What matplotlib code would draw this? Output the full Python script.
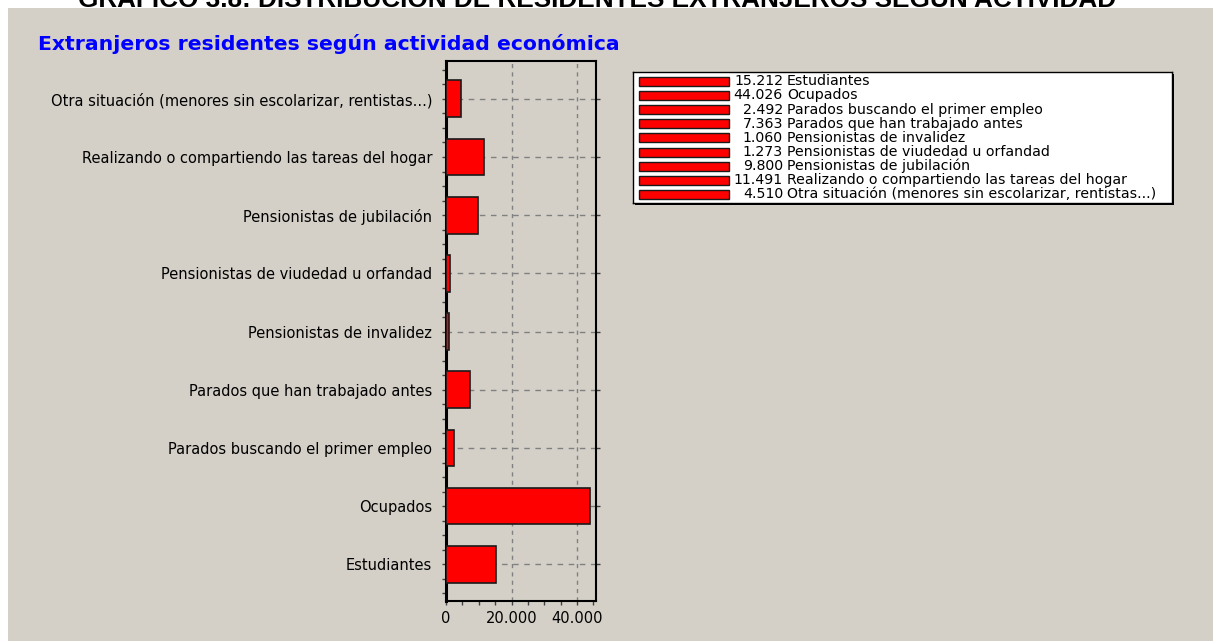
import matplotlib
matplotlib.use("Agg")
import matplotlib.pyplot as plt
from matplotlib.patches import Rectangle
from matplotlib.ticker import FuncFormatter, MultipleLocator, FixedLocator

plt.rcParams['font.family'] = ['DejaVu Sans']

# data (bottom to top, as in the chart)
categorias = ["Estudiantes",
              "Ocupados",
              "Parados buscando el primer empleo",
              "Parados que han trabajado antes",
              "Pensionistas de invalidez",
              "Pensionistas de viudedad u orfandad",
              "Pensionistas de jubilación",
              "Realizando o compartiendo las tareas del hogar",
              "Otra situación (menores sin escolarizar, rentistas...)"]
valores = [15212, 44026, 2492, 7363, 1060, 1273, 9800, 11491, 4510]
xticks = [0, 20000, 40000]

W, H = 1213, 641
GRIS = "#d4d0c8"
FS = 10.5
FS_LEG = 10.2

def miles(v, pos=None):
    return f"{int(v):,}".replace(",", ".")

fig = plt.figure(figsize=(W / 100, H / 100), dpi=100)
fig.patch.set_facecolor("white")

# page title, only its lower part shows above the grey panel
fig.text(0.492, 1 - 7 / H, "GRÁFICO 3.8: DISTRIBUCIÓN DE RESIDENTES EXTRANJEROS SEGÚN ACTIVIDAD",
         ha="center", va="baseline", fontsize=18.8, fontweight="bold", color="black",
         family="Liberation Sans", zorder=-3)
fig.patches.append(Rectangle((8 / W, 0), 1 - 8 / W, 1 - 8 / H, transform=fig.transFigure,
                             facecolor=GRIS, edgecolor="none", zorder=-2))

fig.text(38 / W, 1 - 44 / H, "Extranjeros residentes según actividad económica",
         ha="left", va="center", fontsize=14.7, fontweight="bold", color="#0000ff")

# bar chart
ax = fig.add_axes([446 / W, 1 - 601 / H, 150 / W, 540 / H])
ax.set_facecolor(GRIS)
pos = list(range(len(categorias)))
ax.barh(pos, valores, height=0.63, color="#ff0000", edgecolor="#1a1a1a", linewidth=1.2, zorder=3)
ax.set_xlim(0, 45800)
ax.set_ylim(-0.63, 8.65)
ax.set_yticks(pos)
ax.set_yticklabels(categorias, fontsize=FS)
ax.yaxis.set_minor_locator(FixedLocator([p / 4 - 0.5 for p in range(37) if p % 4 != 2]))
ax.set_xticks(xticks)
ax.xaxis.set_major_formatter(FuncFormatter(miles))
ax.xaxis.set_minor_locator(MultipleLocator(5000))
ax.tick_params(axis="x", labelsize=FS, length=3, width=1, pad=4, color="#404040")
ax.tick_params(axis="x", which="minor", length=3, width=1, color="#404040")
ax.tick_params(axis="y", which="both", length=3, width=1, pad=7, color="#404040", right=True)
ax.tick_params(axis="y", which="minor", right=False)
ax.grid(True, axis="x", linestyle=(0, (3, 3)), color="#808080", linewidth=1, zorder=1)
ax.grid(True, axis="y", linestyle=(0, (4, 4)), color="#808080", linewidth=1, zorder=1)
ax.set_axisbelow(True)
for side, sp in ax.spines.items():
    sp.set_linewidth(1.5)
    sp.set_color("black")
ax.spines["left"].set_linewidth(2.2)

# legend box with drop shadow
lx0, lx1, ly0, ly1 = 633, 1172, 72, 203
fig.patches.append(Rectangle(((lx0 + 2) / W, 1 - (ly1 + 2) / H), (lx1 - lx0) / W, (ly1 - ly0) / H,
                             transform=fig.transFigure, facecolor="black", edgecolor="none", zorder=-1))
lg = fig.add_axes([lx0 / W, 1 - ly1 / H, (lx1 - lx0) / W, (ly1 - ly0) / H], zorder=1)
lg.set_facecolor("white")
lg.set_xlim(0, lx1 - lx0)
lg.set_ylim(ly1 - ly0, 0)
lg.set_xticks([])
lg.set_yticks([])
for sp in lg.spines.values():
    sp.set_linewidth(1)
    sp.set_color("black")
for i, (cat, val) in enumerate(zip(categorias, valores)):
    yc = 9.2 + 14.16 * i
    lg.add_patch(Rectangle((5.5, yc - 4.5), 90.5, 9, facecolor="#ff0000",
                           edgecolor="#1a1a1a", linewidth=1))
    lg.text(150, yc, miles(val), ha="right", va="center", fontsize=FS_LEG)
    lg.text(154, yc, cat, ha="left", va="center", fontsize=FS_LEG)

fig.savefig("out.png", dpi=100)
